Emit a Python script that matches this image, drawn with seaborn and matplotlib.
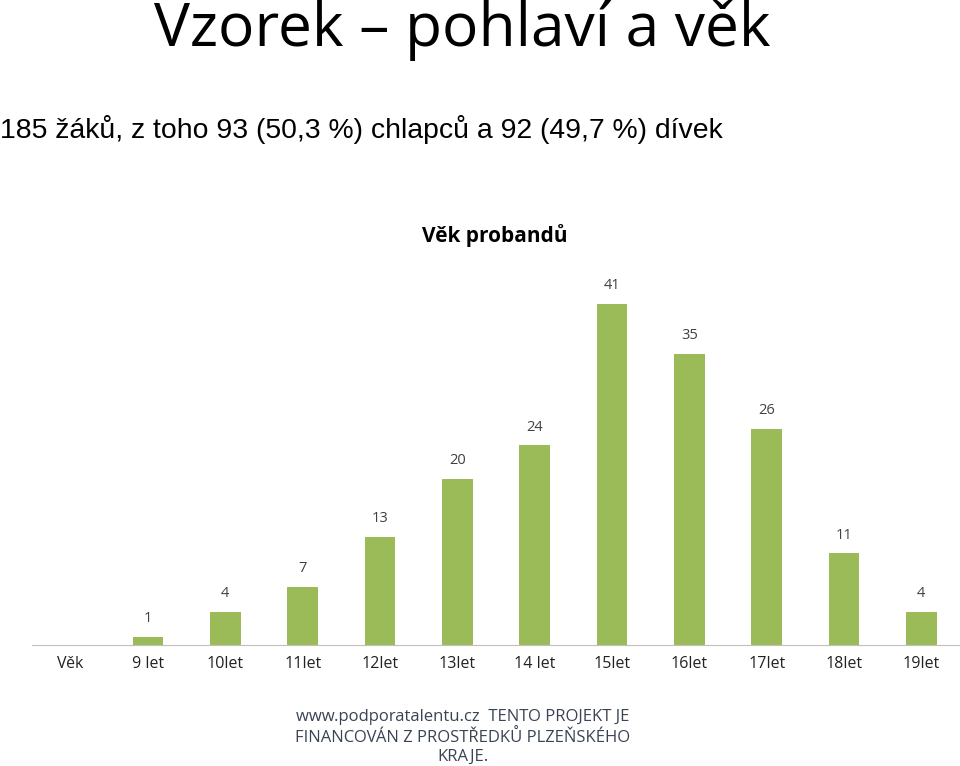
import numpy as np
import pandas as pd
import matplotlib
matplotlib.use("Agg")
import matplotlib.pyplot as plt
import seaborn as sns

categories = ["Věk", "9 let", "10let", "11let", "12let", "13let", "14 let",
              "15let", "16let", "17let", "18let", "19let"]
counts = [np.nan, 1, 4, 7, 13, 20, 24, 41, 35, 26, 11, 4]

df = pd.DataFrame({"cat": categories, "n": counts})

fig = plt.figure(figsize=(9.6, 7.66), dpi=100)
ax = fig.add_axes([32 / 960, 121 / 766, 928 / 960, 365 / 766])
sns.barplot(data=df, x="cat", y="n", order=categories, color="#9BBB59",
            width=0.4, saturation=1, ax=ax)
ax.set_ylim(0, 365 / 8.32)
ax.set_xlim(-0.5, len(categories) - 0.5)
for i, v in enumerate(counts):
    if not np.isnan(v):
        ax.text(i, v + 1.3, f"{int(v)}", ha="center", va="bottom",
                fontsize=10.5, family="Open Sans", color="#404040")
for s in ["top", "right", "left"]:
    ax.spines[s].set_visible(False)
ax.spines["bottom"].set_color("#bfbfbf")
ax.set_yticks([])
ax.set_xlabel("")
ax.set_ylabel("")
ax.tick_params(axis="x", length=0, pad=8)
for t in ax.get_xticklabels():
    t.set_family("Open Sans")
    t.set_fontsize(11.5)
    t.set_color("#222222")

fig.text(462 / 960, 1 - 30 / 766, "Vzorek – pohlaví a věk", ha="center", va="center",
         fontsize=43.5, family="Open Sans")
fig.text(0.0, 1 - 130 / 766, "185 žáků, z toho 93 (50,3 %) chlapců a 92 (49,7 %) dívek",
         ha="left", va="center", fontsize=20.4, family="Liberation Sans")
fig.text(0.515, 1 - 236 / 766, "Věk probandů", ha="center", va="center",
         fontsize=15, fontweight="bold", family="Open Sans")
fig.text(0.482, 1 - 737 / 766,
         "www.podporatalentu.cz  TENTO PROJEKT JE\nFINANCOVÁN Z PROSTŘEDKŮ PLZEŇSKÉHO\nKRAJE.",
         ha="center", va="center", fontsize=12, family="Open Sans",
         color="#3b4455", linespacing=1.25)

fig.savefig("out.png", dpi=100)
